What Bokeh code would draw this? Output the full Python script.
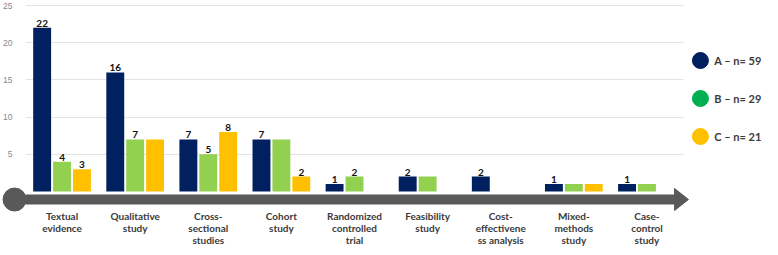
from bokeh.plotting import figure
from bokeh.models import FactorRange, Range1d, FixedTicker, ColumnDataSource
from bokeh.transform import dodge
from bokeh.core.properties import value
from bokeh.embed import file_html
from bokeh.resources import INLINE

# ---------------- data ----------------
categories = ["Textual\nevidence", "Qualitative\nstudy", "Cross-\nsectional\nstudies",
              "Cohort\nstudy", "Randomized\ncontrolled\ntrial", "Feasibility\nstudy",
              "Cost-\neffectivene\nss analysis", "Mixed-\nmethods\nstudy", "Case-\ncontrol\nstudy"]
series_names = ["A \u2013 n= 59", "B \u2013 n= 29", "C \u2013 n= 21"]
values_a = [22, 16, 7, 7, 1, 2, 2, 1, 1]
values_b = [4, 7, 5, 7, 2, 2, 0, 1, 1]
values_c = [3, 7, 8, 2, 0, 0, 0, 1, 0]
labels_a = ["22", "16", "7", "7", "1", "2", "2", "1", "1"]
labels_b = ["4", "7", "5", "", "2", "", "", "", ""]
labels_c = ["3", "", "8", "2", "", "", "", "", ""]
y_ticks = [5, 10, 15, 20, 25]

# ---------------- layout ----------------
W, H = 770, 247
FL, FR = 22, 683
PX_X = (FR - FL) / len(categories)
Y25_PX, Y0_PX = 5, 191
PX_Y = (Y0_PX - Y25_PX) / 25.0
y_end = 25 + Y25_PX / PX_Y
y_start = y_end - H / PX_Y


def dy(px):
    return y_end - px / PX_Y


def dx(px):
    return (px - FL) / PX_X


bar_colors = ["#002060", "#92d050", "#ffc000"]
legend_colors = ["#002060", "#00b050", "#ffc000"]
arrow_color = "#595959"
offsets = [-20 / PX_X, 0.0, 20 / PX_X]
bar_w = 18 / PX_X

p = figure(width=W, height=H, x_range=FactorRange(factors=categories, range_padding=0),
           y_range=Range1d(y_start, y_end), x_axis_location=None,
           output_backend="svg", toolbar_location=None,
           min_border_left=FL, min_border_right=W - FR, min_border_top=0, min_border_bottom=0)
p.outline_line_color = None
p.background_fill_color = "white"
p.border_fill_color = "white"

p.yaxis.ticker = FixedTicker(ticks=y_ticks)
p.yaxis.axis_line_color = None
p.yaxis.major_tick_line_color = None
p.yaxis.minor_tick_line_color = None
p.yaxis.major_label_standoff = 7
p.yaxis.major_label_text_font = "Liberation Sans"
p.yaxis.major_label_text_font_size = "8.5px"
p.yaxis.major_label_text_color = "#888888"
p.ygrid.ticker = FixedTicker(ticks=y_ticks)
p.ygrid.grid_line_color = "#e3e3e3"
p.ygrid.grid_line_width = 1
p.xgrid.visible = False

# arrow (timeline): shaft and head
p.segment(x0=[dx(11)], y0=[dy(199)], x1=[dx(676)], y1=[dy(199)], line_width=10,
          line_color=arrow_color, line_cap="butt")
p.patch(x=[dx(674), dx(688), dx(674)], y=[dy(188), dy(199), dy(210)],
        fill_color=arrow_color, line_color=arrow_color, level="overlay")

# bars and value labels
for vals, labs, col, off in zip([values_a, values_b, values_c], [labels_a, labels_b, labels_c],
                                bar_colors, offsets):
    src = ColumnDataSource(dict(cat=categories, top=vals, lab=labs))
    p.vbar(x=dodge("cat", off, range=p.x_range), top="top", bottom=0, width=bar_w,
           source=src, fill_color=col, line_color=None)
    p.text(x=dodge("cat", off, range=p.x_range), y="top", text="lab", source=src,
           y_offset=-1, text_align="center", text_baseline="bottom",
           text_font=value("Lato"), text_font_style="bold", text_font_size="10px",
           text_color="#111111")

# category labels
cat_src = ColumnDataSource(dict(cat=categories))
p.text(x="cat", y=dy(209), text="cat", source=cat_src, text_align="center",
       text_baseline="top", text_font=value("Lato"), text_font_style="bold",
       text_font_size="10px", text_color="#3a3a3a", text_line_height=1.02)

# round markers: the timeline's start dot and the legend swatches
LEG_X, LEG_Y0, LEG_STEP = 700, 60, 38
leg_y = [dy(LEG_Y0 + i * LEG_STEP) for i in range(len(series_names))]
dot_src = ColumnDataSource(dict(
    x=[dx(11)] + [dx(LEG_X)] * len(series_names),
    y=[dy(199)] + leg_y,
    size=[23] + [16] * len(series_names),
    color=[arrow_color] + legend_colors))
p.scatter(x="x", y="y", size="size", source=dot_src, marker="circle",
          fill_color="color", line_color="color", level="overlay")

leg_src = ColumnDataSource(dict(x=[dx(LEG_X + 14)] * len(series_names), y=leg_y, name=series_names))
p.text(x="x", y="y", text="name", source=leg_src, text_align="left",
       text_baseline="middle", text_font=value("Lato"), text_font_style="bold",
       text_font_size="11px", text_color="#3b3b3b", level="overlay")

open("out.html", "w").write(file_html(p, INLINE))
